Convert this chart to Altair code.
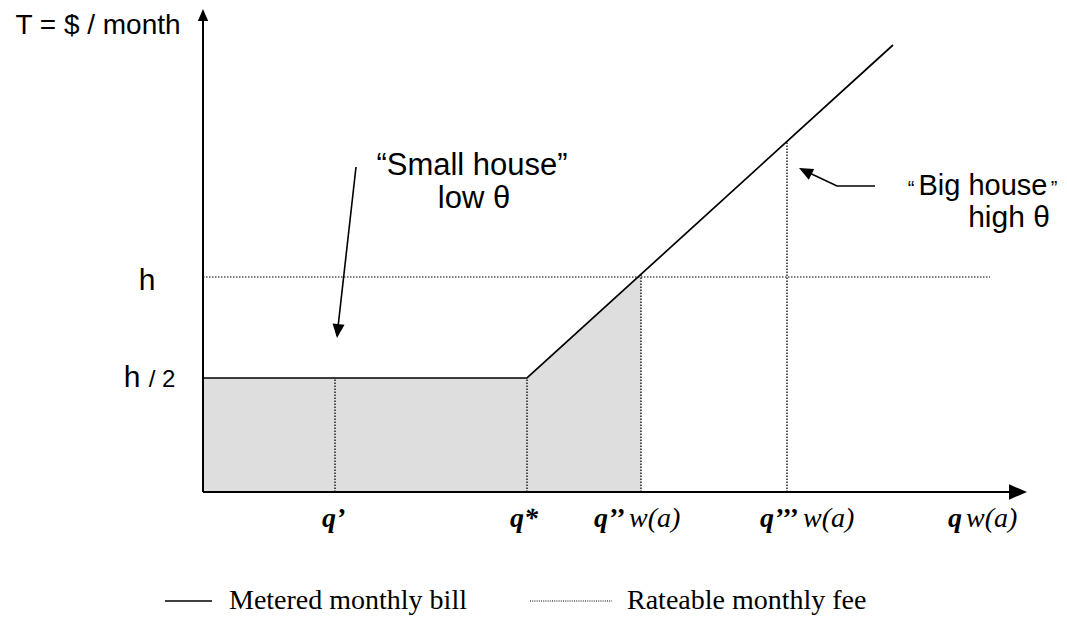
import altair as alt
import pandas as pd

# ---- diagram values (diagram units, origin = corner of the axes) ----
Q_NAMES = ["q’", "q*", "q’’", "q’’’", "q"]
Q_LABEL_X = [1.19, 3.07, 3.91, 5.57, 7.45]
W_LABELS = ["w(a)", "w(a)", "w(a)"]
W_LABEL_X = [4.26, 6.00, 7.63]
LABEL_Y = -0.35

DROP_X = [1.32, 3.24, 4.38, 5.84]          # q', q*, q'', q'''
DROP_TOP = [1.14, 1.14, 2.18, 3.51]

H_LEVEL = 2.15
FEE_END_X = 7.87

BILL_X = [0.0, 3.24, 6.90]
BILL_Y = [1.14, 1.14, 4.47]

SHADE_X = [0.0, 3.24, 4.38]
SHADE_Y = [1.14, 1.14, 2.18]

X_AXIS_END = 8.24
Y_AXIS_END = 4.83

SANS_TEXT = ["T = $ / month", "h", "h", "/ 2", "“Small house”", "low θ",
             "Big house", "“", "”", "high θ"]
SANS_X = [-1.05, -0.56, -0.71, -0.41, 2.69, 2.71, 7.80, 7.08, 8.51, 8.06]
SANS_Y = [4.58, 2.02, 1.05, 1.05, 3.17, 2.84, 2.97, 2.97, 2.97, 2.65]
SANS_FS = [28, 30, 30, 24, 31, 31, 29, 20, 20, 30]

SMALL_ARROW_X = [1.53, 1.34]
SMALL_ARROW_Y = [3.25, 1.56]
BIG_ARROW_X = [6.72, 6.34, 5.98]
BIG_ARROW_Y = [3.06, 3.06, 3.23]

HEAD_X = [0.0, X_AXIS_END, 1.34, 5.96]
HEAD_Y = [Y_AXIS_END, 0.0, 1.54, 3.24]
HEAD_ANGLE = [0, 90, 186.3, 296.6]
HEAD_SIZE = [576, 1296, 784, 784]

LEGEND_TEXT = ["Metered monthly bill", "Rateable monthly fee"]
LEGEND_TEXT_X = [0.26, 4.24]
LEGEND_TEXT_Y = -1.17
LEGEND_SOLID = [-0.38, 0.09]
LEGEND_DOTTED = [3.27, 4.09]
LEGEND_LINE_Y = -1.09

# ---- scales ----
W_PX, H_PX = 1051, 625
xs = alt.Scale(domain=[-1.95, -1.95 + W_PX / 100], nice=False, zero=False)
ys = alt.Scale(domain=[4.84 - H_PX / 100, 4.84], nice=False, zero=False)


def X(f="x"):
    return alt.X(f"{f}:Q", scale=xs, axis=None)


def Y(f="y"):
    return alt.Y(f"{f}:Q", scale=ys, axis=None)


DOT = [1.5, 1.5]

shade = alt.Chart(pd.DataFrame({"x": SHADE_X, "y": SHADE_Y, "y0": [0] * len(SHADE_X)})).mark_area(
    color="#dedede", opacity=1
).encode(x=X(), y=Y(), y2=alt.Y2("y0:Q"))

drops = alt.Chart(pd.DataFrame({"x": DROP_X, "y": [0] * len(DROP_X), "y2": DROP_TOP})).mark_rule(
    color="black", strokeWidth=1.3, strokeDash=DOT
).encode(x=X(), y=Y(), y2=alt.Y2("y2:Q"))

fee = alt.Chart(pd.DataFrame({"x": [0], "x2": [FEE_END_X], "y": [H_LEVEL]})).mark_rule(
    color="black", strokeWidth=1.2, strokeDash=DOT
).encode(x=X(), x2=alt.X2("x2:Q"), y=Y())

bill = alt.Chart(pd.DataFrame({"x": BILL_X, "y": BILL_Y, "i": range(len(BILL_X))})).mark_line(
    color="black", strokeWidth=1.7
).encode(x=X(), y=Y(), order="i:O")

axes = alt.Chart(pd.DataFrame({
    "x": [0, 0], "x2": [X_AXIS_END - 0.12, 0],
    "y": [0, 0], "y2": [0, Y_AXIS_END - 0.08],
})).mark_rule(color="black", strokeWidth=2).encode(
    x=X(), x2=alt.X2("x2:Q"), y=Y(), y2=alt.Y2("y2:Q")
)

arrows = alt.Chart(pd.DataFrame({
    "x": SMALL_ARROW_X + BIG_ARROW_X,
    "y": SMALL_ARROW_Y + BIG_ARROW_Y,
    "id": ["s"] * len(SMALL_ARROW_X) + ["b"] * len(BIG_ARROW_X),
    "i": list(range(len(SMALL_ARROW_X))) + list(range(len(BIG_ARROW_X))),
})).mark_line(color="black", strokeWidth=1.6).encode(
    x=X(), y=Y(), detail="id:N", order="i:O"
)

heads = alt.Chart(pd.DataFrame({
    "x": HEAD_X, "y": HEAD_Y, "angle": HEAD_ANGLE, "size": HEAD_SIZE,
})).mark_point(
    shape="M0,0L0.43,1L-0.43,1Z", filled=True, color="black", opacity=1, strokeWidth=0
).encode(
    x=X(), y=Y(),
    angle=alt.Angle("angle:Q", scale=None),
    size=alt.Size("size:Q", scale=None),
)

sans = alt.Chart(pd.DataFrame({"x": SANS_X, "y": SANS_Y, "t": SANS_TEXT, "fs": SANS_FS})).mark_text(
    font="Liberation Sans", align="center", baseline="alphabetic", color="black"
).encode(x=X(), y=Y(), text="t:N", size=alt.Size("fs:Q", scale=None))

qlabels = alt.Chart(pd.DataFrame({"x": Q_LABEL_X, "y": [LABEL_Y] * len(Q_LABEL_X), "t": Q_NAMES})).mark_text(
    font="Liberation Serif", fontStyle="italic", fontWeight="bold", fontSize=28,
    align="left", baseline="alphabetic", color="black"
).encode(x=X(), y=Y(), text="t:N")

wlabels = alt.Chart(pd.DataFrame({"x": W_LABEL_X, "y": [LABEL_Y] * len(W_LABEL_X), "t": W_LABELS})).mark_text(
    font="Liberation Serif", fontStyle="italic", fontSize=28,
    align="left", baseline="alphabetic", color="black"
).encode(x=X(), y=Y(), text="t:N")

leg_solid = alt.Chart(pd.DataFrame({"x": [LEGEND_SOLID[0]], "x2": [LEGEND_SOLID[1]], "y": [LEGEND_LINE_Y]})).mark_rule(
    color="black", strokeWidth=1.6
).encode(x=X(), x2=alt.X2("x2:Q"), y=Y())

leg_dot = alt.Chart(pd.DataFrame({"x": [LEGEND_DOTTED[0]], "x2": [LEGEND_DOTTED[1]], "y": [LEGEND_LINE_Y]})).mark_rule(
    color="black", strokeWidth=1.2, strokeDash=[1, 1.2]
).encode(x=X(), x2=alt.X2("x2:Q"), y=Y())

leg_text = alt.Chart(pd.DataFrame({"x": LEGEND_TEXT_X, "y": [LEGEND_TEXT_Y] * 2, "t": LEGEND_TEXT})).mark_text(
    font="Liberation Serif", fontSize=28, align="left", baseline="alphabetic", color="black"
).encode(x=X(), y=Y(), text="t:N")

chart = alt.layer(
    shade, drops, fee, bill, axes, arrows, heads, sans, qlabels, wlabels, leg_solid, leg_dot, leg_text
).properties(
    width=W_PX, height=H_PX, padding=0, autosize=alt.AutoSizeParams(type="none")
).configure(background="white").configure_view(stroke=None, strokeWidth=0)

chart.save("out.html", embed_options={"renderer": "svg", "actions": False})
